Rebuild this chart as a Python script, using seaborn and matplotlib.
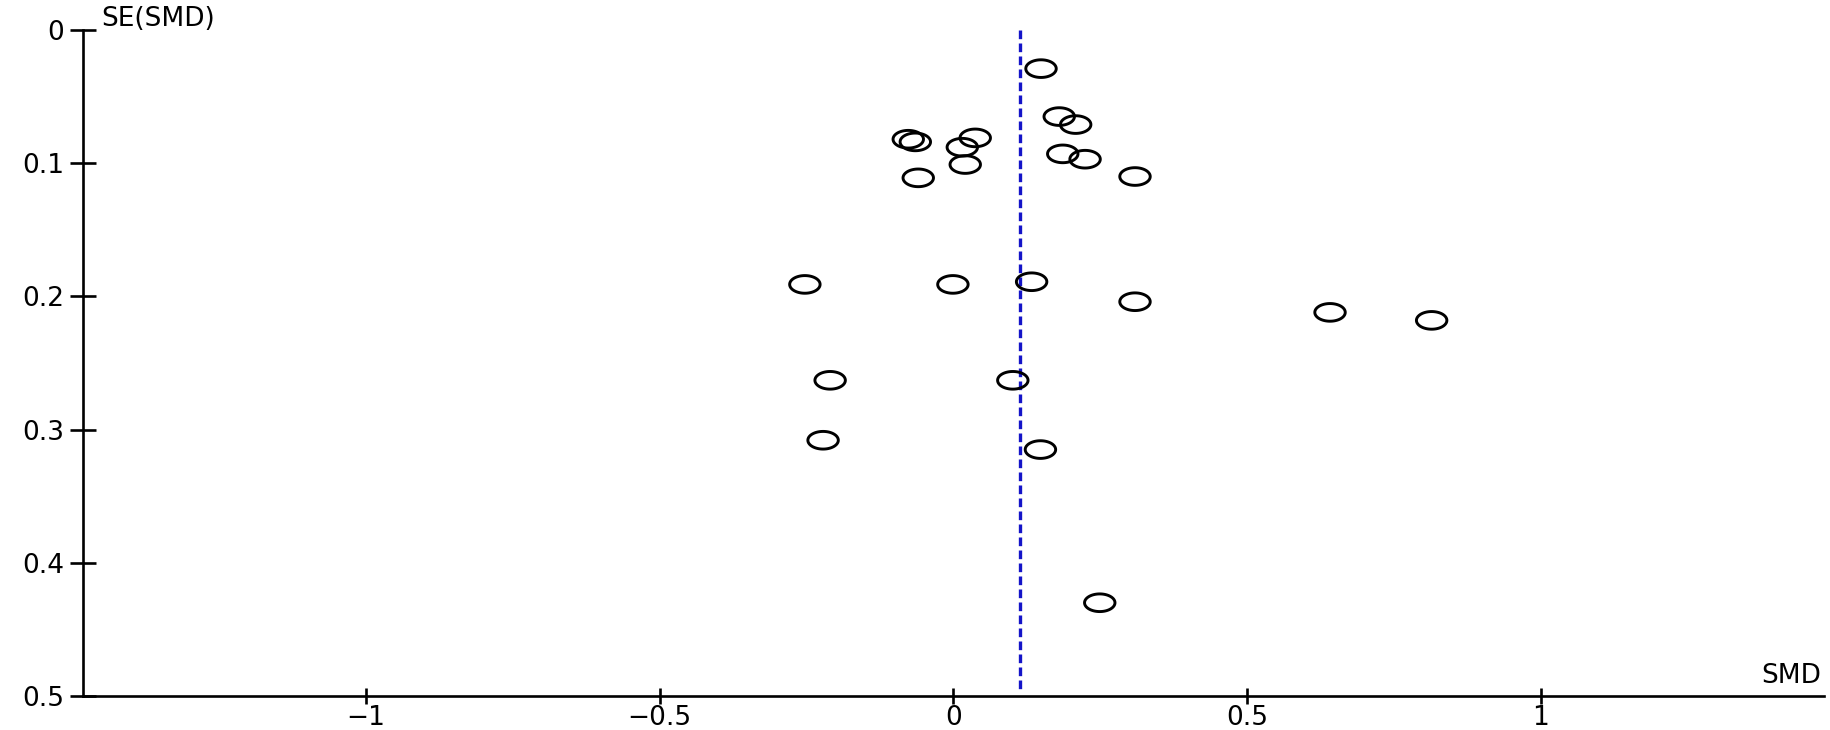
import numpy as np
import seaborn as sns
import matplotlib.pyplot as plt
from matplotlib.path import Path

# study-level estimates
smd = [0.149, 0.180, 0.208, -0.077, -0.065, 0.037, 0.015, 0.186, 0.224, 0.020,
       -0.060, 0.309, -0.253, -0.001, 0.133, 0.309, 0.641, 0.814, -0.210, 0.101,
       -0.222, 0.148, 0.249]
se_smd = [0.029, 0.065, 0.071, 0.082, 0.084, 0.081, 0.088, 0.093, 0.097, 0.101,
          0.111, 0.110, 0.191, 0.191, 0.189, 0.204, 0.212, 0.218, 0.263, 0.263,
          0.308, 0.315, 0.430]
pooled_smd = 0.114

x_ticks = [-1, -0.5, 0, 0.5, 1]
x_ticklabels = ['\u22121', '\u22120.5', '0', '0.5', '1']
y_ticks = [0, 0.1, 0.2, 0.3, 0.4, 0.5]
y_ticklabels = ['0', '0.1', '0.2', '0.3', '0.4', '0.5']

sns.set_style("white")
plt.rcParams['font.family'] = ['DejaVu Sans']
plt.rcParams['text.color'] = 'black'
plt.rcParams['xtick.color'] = 'black'
plt.rcParams['ytick.color'] = 'black'

fig = plt.figure(figsize=(18.31, 7.30), dpi=100)
ax = fig.add_axes([0.0453, 0.0466, 0.9509, 0.9123])

# wide open ellipse marker like the original
t = np.linspace(0, 2 * np.pi, 80)
ellipse = Path(np.column_stack([np.cos(t), 0.58 * np.sin(t)]), closed=True)

sns.scatterplot(x=smd, y=se_smd, marker=ellipse, s=480, color='black',
                linewidth=2.1, ax=ax, zorder=3)
ax.collections[0].set_facecolor('none')
ax.collections[0].set_edgecolor('black')

# pooled estimate
ax.plot([pooled_smd, pooled_smd], [0, 0.498], color='#1414c8', lw=2.4,
        linestyle=(0, (2.6, 1.3)), zorder=2)

ax.set_xlim(-1.482, 1.482)
ax.set_ylim(0.5, 0)
ax.set_xticks(x_ticks)
ax.set_xticklabels(x_ticklabels)
ax.set_yticks(y_ticks)
ax.set_yticklabels(y_ticklabels)

sns.despine(ax=ax)
for side in ['left', 'bottom']:
    ax.spines[side].set_linewidth(1.9)
    ax.spines[side].set_color('black')

ax.tick_params(axis='y', direction='inout', length=19, width=1.9,
               labelsize=19, pad=4, left=True)
ax.tick_params(axis='x', direction='inout', length=11.5, width=1.9,
               labelsize=19, pad=1, bottom=True)

ax.set_xlabel('')
ax.set_ylabel('')
ax.text(0.0105, 1.016, 'SE(SMD)', transform=ax.transAxes, fontsize=19,
        ha='left', va='center')
ax.text(0.9985, 0.03, 'SMD', transform=ax.transAxes, fontsize=19,
        ha='right', va='center')

plt.savefig('out.png', dpi=100)
